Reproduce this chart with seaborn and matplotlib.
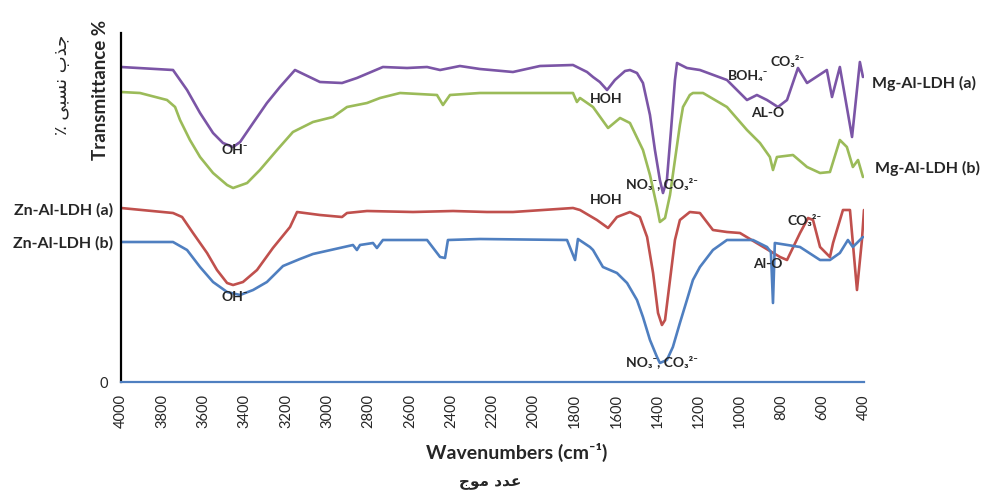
import pandas as pd
import seaborn as sns
import matplotlib.pyplot as plt

# FTIR spectra (wavenumber, relative transmittance)
mg_a_wn = [4000, 3748, 3680, 3617, 3554, 3506, 3457, 3423, 3360, 3293, 3230, 3157, 3036, 2929,
           2857, 2731, 2614, 2517, 2454, 2358, 2261, 2101, 1970, 1810, 1742, 1713, 1680, 1645,
           1607, 1558, 1534, 1500, 1471, 1437, 1413, 1389, 1374, 1355, 1335, 1316, 1306, 1258,
           1195, 1064, 967, 919, 870, 817, 773, 720, 676, 580, 555, 517, 458, 420, 405]
mg_a_t = [315, 312, 292, 269, 249, 239, 235, 240, 259, 279, 295, 312, 300, 299,
          304, 315, 314, 315, 312, 316, 313, 310, 316, 317, 310, 305, 300, 292,
          302, 311, 312, 309, 299, 267, 232, 202, 189, 202, 252, 302, 319, 314,
          312, 302, 282, 287, 282, 275, 282, 314, 299, 312, 285, 315, 245, 320, 305]

mg_b_wn = [4000, 3908, 3777, 3738, 3714, 3666, 3617, 3554, 3486, 3457, 3389, 3327, 3244, 3167,
           3070, 2973, 2905, 2808, 2745, 2648, 2469, 2440, 2406, 2261, 1810, 1791, 1776, 1713,
           1640, 1582, 1534, 1471, 1437, 1403, 1389, 1364, 1340, 1316, 1292, 1277, 1244, 1229,
           1180, 1064, 967, 904, 856, 841, 822, 744, 676, 613, 565, 517, 483, 454, 429, 405]
mg_b_t = [290, 289, 282, 275, 262, 242, 225, 209, 197, 194, 199, 212, 232, 250,
          260, 265, 275, 279, 284, 289, 287, 277, 287, 289, 289, 280, 284, 275,
          254, 264, 259, 232, 207, 175, 160, 164, 187, 222, 257, 275, 287, 289,
          289, 275, 252, 239, 225, 212, 225, 227, 215, 209, 210, 242, 235, 215, 222, 205]

zn_a_wn = [4000, 3748, 3704, 3651, 3583, 3535, 3486, 3457, 3409, 3341, 3264, 3181, 3147, 3036,
           2929, 2905, 2808, 2585, 2391, 2227, 2101, 1810, 1776, 1694, 1640, 1597, 1534, 1486,
           1451, 1422, 1398, 1379, 1364, 1340, 1316, 1292, 1244, 1195, 1132, 1064, 1001, 904,
           807, 773, 710, 671, 647, 613, 565, 550, 502, 468, 434, 410, 400]
zn_a_t = [174, 169, 165, 149, 129, 112, 99, 97, 100, 112, 134, 155, 170, 167,
          165, 169, 171, 170, 171, 170, 170, 174, 172, 162, 154, 165, 170, 165,
          145, 109, 69, 57, 62, 102, 142, 162, 170, 169, 152, 150, 149, 137,
          125, 122, 149, 164, 162, 135, 125, 139, 172, 172, 92, 142, 172]

zn_b_wn = [4000, 3748, 3680, 3617, 3554, 3486, 3423, 3360, 3293, 3215, 3133, 3070, 2876, 2857,
           2842, 2779, 2760, 2731, 2517, 2454, 2430, 2416, 2261, 1839, 1800, 1786, 1728, 1713,
           1665, 1597, 1548, 1500, 1471, 1437, 1403, 1389, 1355, 1326, 1292, 1258, 1229, 1195,
           1132, 1064, 938, 870, 851, 841, 832, 710, 613, 565, 517, 478, 454, 405]
zn_b_t = [140, 140, 132, 115, 100, 90, 87, 92, 100, 116, 123, 128, 137, 132,
          137, 139, 134, 142, 142, 125, 124, 142, 143, 142, 122, 143, 135, 132,
          115, 109, 99, 82, 65, 42, 25, 19, 22, 35, 59, 82, 102, 115,
          132, 142, 142, 135, 130, 79, 139, 135, 122, 122, 129, 142, 135, 145]

series_names = ['Mg-Al-LDH (a)', 'Mg-Al-LDH (b)', 'Zn-Al-LDH (a)', 'Zn-Al-LDH (b)']
series_colors = ['#7B55A6', '#9BBB59', '#C0504D', '#4F7FC0']
x_ticks = list(range(4000, 399, -200))

# peak assignments: (text, wavenumber, height)
peak_labels = ['OH⁻', 'OH⁻', 'HOH', 'HOH', 'NO₃⁻, CO₃²⁻', 'NO₃⁻, CO₃²⁻',
               'BOH₄⁻', 'AL-O', 'CO₃²⁻', 'CO₃²⁻', 'Al-O']
peak_wn = [3450, 3450, 1650, 1650, 1380, 1380, 960, 865, 770, 690, 865]
peak_h = [232, 85, 283, 182, 198, 20, 306, 269, 320, 161, 118]

df = pd.concat([
    pd.DataFrame({'wn': mg_a_wn, 't': mg_a_t, 'sample': series_names[0]}),
    pd.DataFrame({'wn': mg_b_wn, 't': mg_b_t, 'sample': series_names[1]}),
    pd.DataFrame({'wn': zn_a_wn, 't': zn_a_t, 'sample': series_names[2]}),
    pd.DataFrame({'wn': zn_b_wn, 't': zn_b_t, 'sample': series_names[3]}),
])

sns.set_style('white')
plt.rcParams['font.family'] = ['Lato', 'DejaVu Sans']

fig = plt.figure(figsize=(9.83, 4.93), dpi=100)
ax = fig.add_axes([121 / 983, 111 / 493, 743 / 983, 349 / 493])

sns.lineplot(data=df, x='wn', y='t', hue='sample', hue_order=series_names,
             palette=series_colors, linewidth=1.9, legend=False, ax=ax)

ax.set_xlim(4000, 400)
ax.set_ylim(0, 349)
ax.set_xticks(x_ticks)
ax.set_xticklabels([str(v) for v in x_ticks], rotation=90, fontsize=10.5)
ax.set_yticks([0])
ax.set_yticklabels(['0'], fontsize=10.5)
ax.set_xlabel('')
ax.set_ylabel('')

for side in ['top', 'right']:
    ax.spines[side].set_visible(False)
ax.spines['left'].set_color('black')
ax.spines['left'].set_linewidth(1.6)
ax.spines['bottom'].set_color('#4F7FC0')
ax.spines['bottom'].set_linewidth(1.6)
ax.tick_params(axis='x', direction='out', length=6, width=1.3, color='#4F7FC0', pad=3)
ax.tick_params(axis='y', direction='out', length=5, width=1.3, color='black', pad=4)

for txt, w, h in zip(peak_labels, peak_wn, peak_h):
    ax.text(w, h, txt, ha='center', va='center', fontsize=10, fontweight='bold')

# sample names outside the plot
ax.text(361, 299, series_names[0], ha='left', va='center', fontsize=11.5, fontweight='bold', clip_on=False)
ax.text(347, 214, series_names[1], ha='left', va='center', fontsize=11.5, fontweight='bold', clip_on=False)
ax.text(4036, 172, series_names[2], ha='right', va='center', fontsize=11.5, fontweight='bold', clip_on=False)
ax.text(4036, 139, series_names[3], ha='right', va='center', fontsize=11.5, fontweight='bold', clip_on=False)

fig.text(100 / 983, 1 - 90 / 493, 'Transmittance %', rotation=90, ha='center', va='center',
         fontsize=13.5, fontweight='bold')
# Arabic labels (pre-shaped presentation forms, visual order)
fig.text(62 / 983, 1 - 85 / 493, '٪ ﻰﺒﺴﻧ ﺏﺬﺟ', rotation=90, ha='center', va='center',
         fontsize=13, family='DejaVu Sans')
fig.text(517 / 983, 1 - 452 / 493, 'Wavenumbers (cm⁻¹)', ha='center', va='center',
         fontsize=14, fontweight='bold')
fig.text(490 / 983, 1 - 483 / 493, 'ﺝﻮﻣ ﺩﺪﻋ', ha='center', va='center',
         fontsize=11, fontweight='bold', family='DejaVu Sans')

fig.savefig('out.png', dpi=100)
